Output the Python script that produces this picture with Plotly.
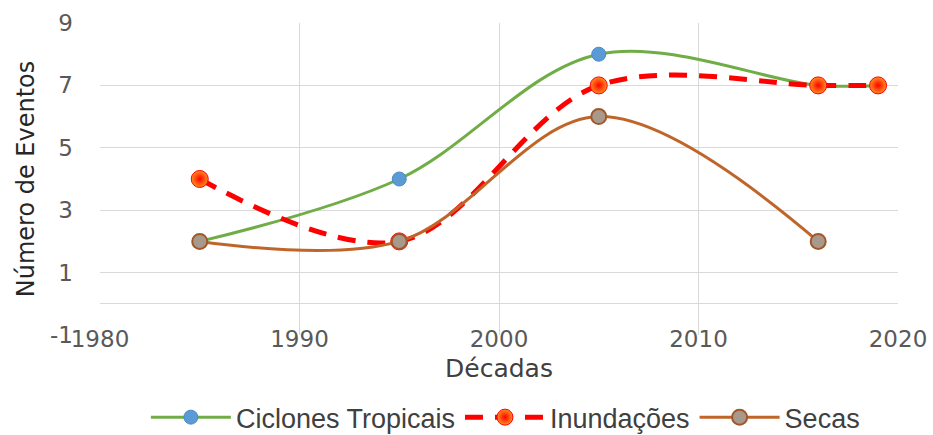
import plotly.graph_objects as go

# Data
ciclones_x = [1985, 1995, 2005, 2016, 2019]
ciclones_y = [2, 4, 8, 7, 7]
inund_x = [1985, 1995, 2005, 2016, 2019]
inund_y = [4, 2, 7, 7, 7]
secas_x = [1985, 1995, 2005, 2016]
secas_y = [2, 2, 6, 2]
x_ticks = [1980, 1990, 2000, 2010, 2020]
y_ticks = [-1, 1, 3, 5, 7, 9]
y_tick_text = ["-1", "1", "3", "5", "7", "9"]

fig = go.Figure()
fig.add_trace(go.Scatter(
    x=ciclones_x, y=ciclones_y, name="Ciclones Tropicais", mode="lines+markers",
    line=dict(color="#70ad47", width=3, shape="spline", smoothing=1),
    marker=dict(size=14, color="#5b9bd5", line=dict(color="#4a8ac4", width=1)),
))
fig.add_trace(go.Scatter(
    x=inund_x, y=inund_y, name="Inundações", mode="lines+markers",
    line=dict(color="#ff0000", width=5, dash="18px,12px", shape="spline", smoothing=1),
    marker=dict(size=17, color="#ff9020", gradient=dict(type="radial", color="#ff0000"),
                line=dict(color="#ff0000", width=1)),
))
fig.add_trace(go.Scatter(
    x=secas_x, y=secas_y, name="Secas", mode="lines+markers",
    line=dict(color="#c0652a", width=3, shape="spline", smoothing=1),
    marker=dict(size=15, color="#a8998a", line=dict(color="#a0582a", width=2)),
))

fig.update_layout(
    width=933, height=435,
    margin=dict(l=100, r=35, t=23, b=100, autoexpand=False),
    paper_bgcolor="white", plot_bgcolor="white",
    font=dict(family="DejaVu Sans, Arial, sans-serif", color="#595959"),
    showlegend=True,
    legend=dict(
        orientation="h", x=0.508, xanchor="center",
        yref="container", y=0.04, yanchor="middle",
        font=dict(family="Liberation Sans, Arial, sans-serif", size=27, color="#404040"),
        itemwidth=80, itemsizing="trace", traceorder="normal",
    ),
)
fig.update_xaxes(
    range=[1980, 2020], tickvals=x_ticks, ticks="", showline=False,
    showgrid=True, gridcolor="#d9d9d9", gridwidth=1, zeroline=False,
    tickfont=dict(size=23, color="#595959"), ticklabelstandoff=-12,
    title=dict(text="Décadas", font=dict(size=25, color="#404040"), standoff=8),
)
fig.update_yaxes(
    range=[-1, 9], tickvals=y_ticks, ticktext=y_tick_text, ticks="", showline=False,
    showgrid=True, gridcolor="#d9d9d9", gridwidth=1,
    zeroline=True, zerolinecolor="#d9d9d9", zerolinewidth=1,
    tickfont=dict(size=23, color="#595959"), ticklabelstandoff=26,
    title=dict(text="Número de Eventos", font=dict(size=24, color="#262626"), standoff=8),
)

fig.write_html("out.html")
